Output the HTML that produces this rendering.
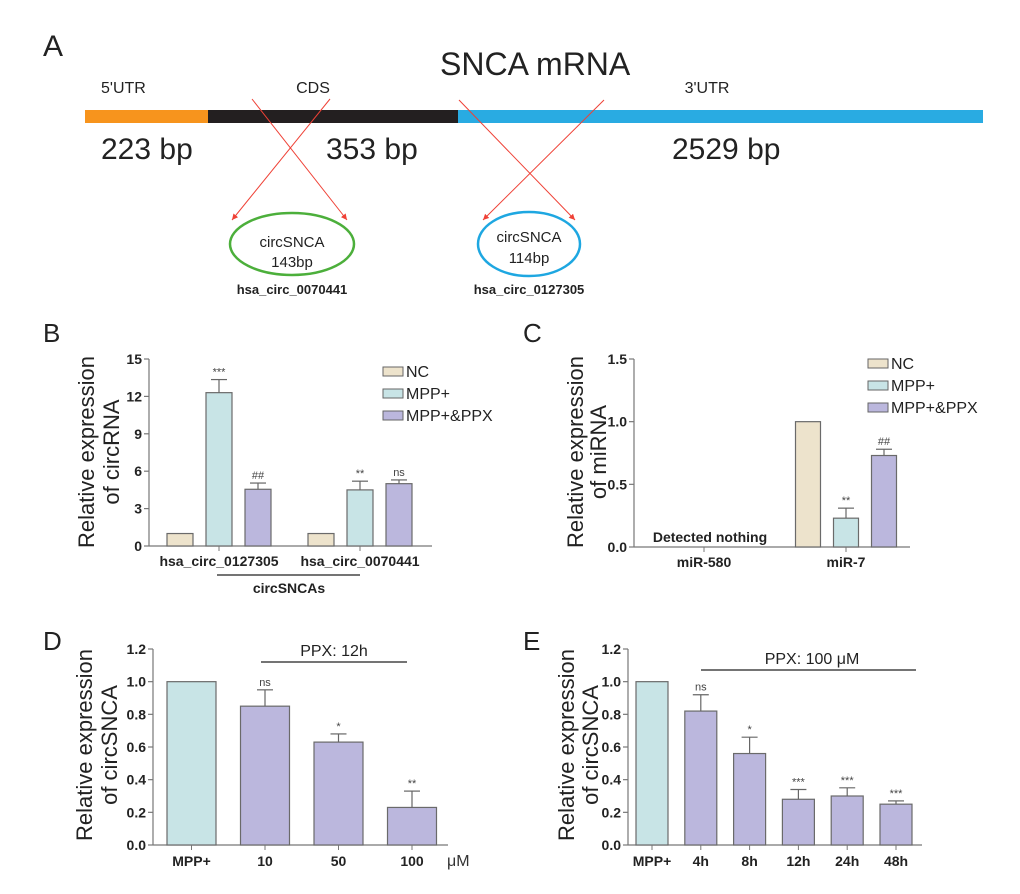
<!DOCTYPE html>
<html><head><meta charset="utf-8"><style>
html,body{margin:0;padding:0;background:#fff}
svg{display:block;font-family:"Liberation Sans",sans-serif}
.tk{font-size:14px;font-weight:bold;fill:#222}
.cat{font-size:14px;font-weight:bold;fill:#222}
.yt{font-size:22px;fill:#222}
.sig{font-size:11px;fill:#444}
.lg{font-size:16px;fill:#222}
</style></head><body>
<svg id="fig" width="1020" height="894" viewBox="0 0 1020 894">
<g>
<text x="43" y="56" font-size="30" fill="#222">A</text>
<text x="440" y="75" font-size="32" fill="#222">SNCA mRNA</text>
<text x="101" y="93" font-size="16" fill="#222">5'UTR</text>
<text x="313" y="93" font-size="16" fill="#222" text-anchor="middle">CDS</text>
<text x="707" y="93" font-size="16" fill="#222" text-anchor="middle">3'UTR</text>
<rect x="85" y="110" width="123" height="13" fill="#f7941d"/>
<rect x="208" y="110" width="250" height="13" fill="#231f20"/>
<rect x="458" y="110" width="525" height="13" fill="#29abe2"/>
<text x="101" y="159" font-size="30" fill="#222">223 bp</text>
<text x="326" y="159" font-size="30" fill="#222">353 bp</text>
<text x="672" y="159" font-size="30" fill="#222">2529 bp</text>
<defs><marker id="ar" markerWidth="8" markerHeight="8" refX="6" refY="3" orient="auto"><path d="M0,0 L6,3 L0,6 z" fill="#ef4136"/></marker></defs>
<g stroke="#ef4136" stroke-width="1" marker-end="url(#ar)">
<line x1="252" y1="99" x2="347" y2="220"/>
<line x1="330" y1="99" x2="232" y2="220"/>
<line x1="459" y1="100" x2="575" y2="220"/>
<line x1="604" y1="100" x2="483" y2="220"/>
</g>
<ellipse cx="292" cy="244" rx="62" ry="31" fill="none" stroke="#4caf3b" stroke-width="2.5"/>
<text x="292" y="247" font-size="15" text-anchor="middle" fill="#222">circSNCA</text>
<text x="292" y="267" font-size="15" text-anchor="middle" fill="#222">143bp</text>
<text x="292" y="294" font-size="13" font-weight="bold" text-anchor="middle" fill="#222">hsa_circ_0070441</text>
<ellipse cx="529" cy="244" rx="51" ry="32" fill="none" stroke="#1ea7e1" stroke-width="2.5"/>
<text x="529" y="242" font-size="15" text-anchor="middle" fill="#222">circSNCA</text>
<text x="529" y="263" font-size="15" text-anchor="middle" fill="#222">114bp</text>
<text x="529" y="294" font-size="13" font-weight="bold" text-anchor="middle" fill="#222">hsa_circ_0127305</text>
</g>
<text x="43" y="342" font-size="26" fill="#222">B</text>
<text x="523" y="342" font-size="26" fill="#222">C</text>
<text x="43" y="650" font-size="26" fill="#222">D</text>
<text x="523" y="650" font-size="26" fill="#222">E</text>
</svg>
<script>
// ---- Panel B data ----
const bCategories = ["hsa_circ_0127305", "hsa_circ_0070441"];
const bTicks = [0, 3, 6, 9, 12, 15];
const bNC = [1, 1];
const bMPP = [12.3, 4.5];
const bPPX = [4.55, 5.0];
const bMPPErr = [1.05, 0.7];
const bPPXErr = [0.5, 0.3];
const bMPPSig = ["***", "**"];
const bPPXSig = ["##", "ns"];
// ---- Panel C data ----
const cCategories = ["miR-580", "miR-7"];
const cTicks = ["0.0", "0.5", "1.0", "1.5"];
const cNC = [0, 1.0];
const cMPP = [0, 0.23];
const cPPX = [0, 0.73];
const cMPPErr = [0, 0.08];
const cPPXErr = [0, 0.05];
const cMPPSig = ["", "**"];
const cPPXSig = ["", "##"];
// ---- Panel D data ----
const dCategories = ["MPP+", "10", "50", "100"];
const dTicks = ["0.0", "0.2", "0.4", "0.6", "0.8", "1.0", "1.2"];
const dValues = [1.0, 0.85, 0.63, 0.23];
const dErr = [0, 0.1, 0.05, 0.1];
const dSig = ["", "ns", "*", "**"];
// ---- Panel E data ----
const eCategories = ["MPP+", "4h", "8h", "12h", "24h", "48h"];
const eTicks = ["0.0", "0.2", "0.4", "0.6", "0.8", "1.0", "1.2"];
const eValues = [1.0, 0.82, 0.56, 0.28, 0.30, 0.25];
const eErr = [0, 0.1, 0.1, 0.06, 0.05, 0.02];
const eSig = ["", "ns", "*", "***", "***", "***"];

const C_NC = "#ede3cc", C_MPP = "#c8e4e6", C_PPX = "#bbb7dd";
const NS = "http://www.w3.org/2000/svg";
const svg = document.getElementById("fig");
function mk(tag, attrs, parent, text) {
  const e = document.createElementNS(NS, tag);
  for (const k in attrs) e.setAttribute(k, attrs[k]);
  if (text !== undefined) e.textContent = text;
  (parent || svg).appendChild(e);
  return e;
}
function axisFrame(g, x0, x1, yTop, yBot, ticks, tmax) {
  const ys = v => yBot - (v / tmax) * (yBot - yTop);
  mk("line", {x1: x0, y1: yTop, x2: x0, y2: yBot, stroke: "#777", "stroke-width": 1.2}, g);
  mk("line", {x1: x0, y1: yBot, x2: x1, y2: yBot, stroke: "#777", "stroke-width": 1.2}, g);
  ticks.forEach(t => {
    const y = ys(parseFloat(t));
    mk("line", {x1: x0 - 5, y1: y, x2: x0, y2: y, stroke: "#777", "stroke-width": 1.2}, g);
    const lab = mk("text", {x: x0 - 7, y: y + 5, "text-anchor": "end", class: "tk"}, g, t);
    
    
  });
  return ys;
}
function bar(g, x, w, v, err, ys, color, sig, name) {
  const yb = ys(0), yt = ys(v);
  if (v > 0) {
    const r = mk("rect", {x: x, y: yt, width: w, height: yb - yt, fill: color, stroke: "#6a6a6a", "stroke-width": 1.2}, g);
    
    
  }
  let top = yt;
  if (err > 0) {
    const ye = ys(v + err);
    mk("line", {x1: x + w / 2, y1: yt, x2: x + w / 2, y2: ye, stroke: "#666", "stroke-width": 1.2}, g);
    mk("line", {x1: x + w / 2 - 8, y1: ye, x2: x + w / 2 + 8, y2: ye, stroke: "#666", "stroke-width": 1.2}, g);
    top = ye;
  }
  if (sig) {
    const s = mk("text", {x: x + w / 2, y: top - 4, "text-anchor": "middle", class: "sig"}, g, sig);
    
    
  }
}
function yTitle(g, cx1, cx2, cy, l2) {
  mk("text", {x: cx1, y: cy, "text-anchor": "middle", class: "yt", transform: `rotate(-90 ${cx1} ${cy})`, "dominant-baseline": "middle"}, g, "Relative expression");
  mk("text", {x: cx2, y: cy, "text-anchor": "middle", class: "yt", transform: `rotate(-90 ${cx2} ${cy})`, "dominant-baseline": "middle"}, g, l2);
}
function legend(g, x, ys) {
  [["NC", C_NC], ["MPP+", C_MPP], ["MPP+&PPX", C_PPX]].forEach((it, i) => {
    const sw = mk("rect", {x: x, y: ys[i], width: 20, height: 9, fill: it[1], stroke: "#666", "stroke-width": 1}, g);
    
    
    const t = mk("text", {x: x + 23, y: ys[i] + 10, class: "lg"}, g, it[0]);
    
    
  });
}
// Panel B
(function () {
  const g = mk("g", {});
  
  
  const ys = axisFrame(g, 149, 432, 359, 546, bTicks.map(String), 15);
  const centers = [219, 360], bw = 26, step = 39;
  bCategories.forEach((c, i) => {
    const cx = centers[i];
    bar(g, cx - step - bw / 2, bw, bNC[i], 0, ys, C_NC, "", "bar-nc");
    bar(g, cx - bw / 2, bw, bMPP[i], bMPPErr[i], ys, C_MPP, bMPPSig[i], "bar-mpp");
    bar(g, cx + step - bw / 2, bw, bPPX[i], bPPXErr[i], ys, C_PPX, bPPXSig[i], "bar-mpp-ppx");
    mk("line", {x1: cx, y1: 546, x2: cx, y2: 551, stroke: "#777"}, g);
    const t = mk("text", {x: cx, y: 566, "text-anchor": "middle", class: "cat"}, g, c);
    
    
  });
  mk("line", {x1: 217, y1: 575, x2: 360, y2: 575, stroke: "#222", "stroke-width": 1.2}, g);
  mk("text", {x: 289, y: 593, "text-anchor": "middle", class: "cat"}, g, "circSNCAs");
  yTitle(g, 88, 113, 452, "of circRNA");
  legend(g, 383, [367, 389, 411]);
})();
// Panel C
(function () {
  const g = mk("g", {});
  
  
  const ys = axisFrame(g, 634, 910, 359, 547, cTicks, 1.5);
  const centers = [704, 846], bw = 25, step = 38;
  cCategories.forEach((c, i) => {
    const cx = centers[i];
    bar(g, cx - step - bw / 2, bw, cNC[i], 0, ys, C_NC, "", "bar-nc");
    bar(g, cx - bw / 2, bw, cMPP[i], cMPPErr[i], ys, C_MPP, cMPPSig[i], "bar-mpp");
    bar(g, cx + step - bw / 2, bw, cPPX[i], cPPXErr[i], ys, C_PPX, cPPXSig[i], "bar-mpp-ppx");
    mk("line", {x1: cx, y1: 547, x2: cx, y2: 552, stroke: "#777"}, g);
    const t = mk("text", {x: cx, y: 567, "text-anchor": "middle", class: "cat"}, g, c);
    
    
  });
  mk("text", {x: 710, y: 542, "text-anchor": "middle", class: "cat"}, g, "Detected nothing");
  yTitle(g, 577, 600, 452, "of miRNA");
  legend(g, 868, [359, 381, 403]);
})();
// Panel D
(function () {
  const g = mk("g", {});
  
  
  const ys = axisFrame(g, 153, 448, 649, 845, dTicks, 1.2);
  const x0 = 167, step = 73.5, bw = 49;
  dCategories.forEach((c, i) => {
    const x = x0 + i * step;
    bar(g, x, bw, dValues[i], dErr[i], ys, i === 0 ? C_MPP : C_PPX, dSig[i], "bar-" + c);
    mk("line", {x1: x + bw / 2, y1: 845, x2: x + bw / 2, y2: 850, stroke: "#777"}, g);
    const t = mk("text", {x: x + bw / 2, y: 866, "text-anchor": "middle", class: "cat"}, g, c);
    
    
  });
  mk("text", {x: 447, y: 866, "font-size": 16, fill: "#333"}, g, "μM");
  mk("line", {x1: 261, y1: 662, x2: 407, y2: 662, stroke: "#222", "stroke-width": 1.2}, g);
  mk("text", {x: 334, y: 656, "text-anchor": "middle", "font-size": 16, fill: "#222"}, g, "PPX: 12h");
  yTitle(g, 86, 111, 745, "of circSNCA");
})();
// Panel E
(function () {
  const g = mk("g", {});
  
  
  const ys = axisFrame(g, 628, 922, 649, 845, eTicks, 1.2);
  const x0 = 636, step = 48.8, bw = 32;
  eCategories.forEach((c, i) => {
    const x = x0 + i * step;
    bar(g, x, bw, eValues[i], eErr[i], ys, i === 0 ? C_MPP : C_PPX, eSig[i], "bar-" + c);
    mk("line", {x1: x + bw / 2, y1: 845, x2: x + bw / 2, y2: 850, stroke: "#777"}, g);
    const t = mk("text", {x: x + bw / 2, y: 866, "text-anchor": "middle", class: "cat"}, g, c);
    
    
  });
  mk("line", {x1: 701, y1: 670, x2: 916, y2: 670, stroke: "#222", "stroke-width": 1.2}, g);
  mk("text", {x: 812, y: 664, "text-anchor": "middle", "font-size": 16, fill: "#222"}, g, "PPX: 100 μM");
  yTitle(g, 568, 592, 745, "of circSNCA");
})();
</script>
</body></html>
